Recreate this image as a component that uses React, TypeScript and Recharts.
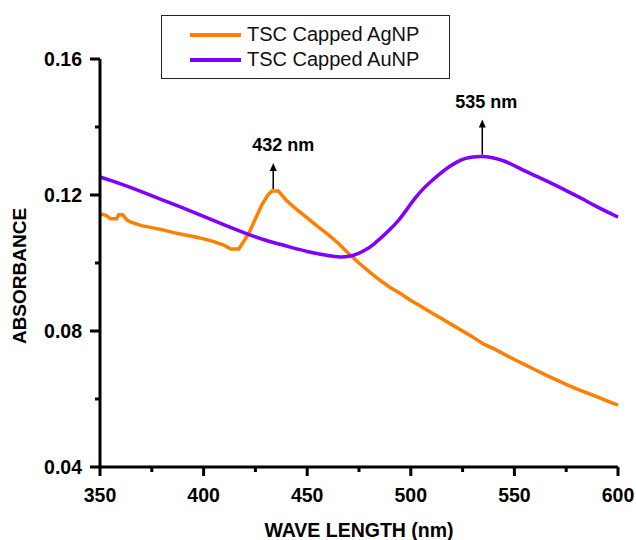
import { LineChart, Line, XAxis, YAxis, Legend, ReferenceDot } from "recharts";

const FONT = '"Liberation Sans", Arial, sans-serif';
const AG_COLOR = "#FF8000";
const AU_COLOR = "#8000FF";

// TSC capped AgNP (orange)
const AG_NM = [
  350, 353, 355, 358, 359, 361, 363, 365, 370, 375, 380, 385, 390, 395, 400, 405, 410, 413, 417,
  419, 422, 425, 428, 431, 433, 436, 440, 445, 450, 455, 460, 465, 470, 475, 480, 485, 490,
  495, 500, 505, 510, 515, 520, 525, 530, 535, 540, 545, 550, 555, 560, 565, 570, 575, 580,
  585, 590, 595, 600,
];
const AG_ABS = [
  0.1144, 0.114, 0.113, 0.113, 0.1142, 0.1142, 0.1126, 0.112, 0.111, 0.1104, 0.1098, 0.109, 0.1084,
  0.1078, 0.1071, 0.1063, 0.1052, 0.1041, 0.1041, 0.106, 0.109, 0.113, 0.117, 0.12, 0.1212,
  0.1212, 0.1184, 0.1157, 0.1133, 0.1108, 0.1084, 0.1058, 0.1028, 0.1, 0.0974, 0.095, 0.0928,
  0.091, 0.089, 0.0872, 0.0854, 0.0836, 0.0818, 0.08, 0.0782, 0.0762, 0.0748, 0.0732, 0.0716,
  0.0701, 0.0686, 0.0671, 0.0657, 0.0643, 0.063, 0.0618, 0.0606, 0.0594, 0.0582,
];

// TSC capped AuNP (purple)
const AU_NM = [
  350, 360, 370, 380, 390, 400, 410, 420, 430, 440, 450, 460, 466, 472, 478, 482, 486, 490,
  494, 498, 502, 506, 510, 514, 518, 522, 526, 530, 535, 540, 545, 550, 555, 560, 567, 575,
  583, 590, 600,
];
const AU_ABS = [
  0.1253, 0.1233, 0.121, 0.1186, 0.1162, 0.1137, 0.1112, 0.1088, 0.1067, 0.105, 0.1034,
  0.1022, 0.1018, 0.1022, 0.1038, 0.1055, 0.1076, 0.1099, 0.1125, 0.1157, 0.119, 0.1218,
  0.1241, 0.1262, 0.1281, 0.1296, 0.1307, 0.1312, 0.1313, 0.1309, 0.13, 0.1286, 0.1271,
  0.1257, 0.1237, 0.1213, 0.1188, 0.1165, 0.1135,
];

const X_TICKS = [350, 375, 400, 425, 450, 475, 500, 525, 550, 575, 600];
const Y_TICKS = [0.04, 0.06, 0.08, 0.1, 0.12, 0.14, 0.16];

const PEAK_NM = [433.6, 534.5];
const PEAK_ABS = [0.1212, 0.1313];
const PEAK_LABELS = ["432 nm", "535 nm"];

const agData = AG_NM.map((nm, i) => ({ nm, abs: AG_ABS[i] }));
const auData = AU_NM.map((nm, i) => ({ nm, abs: AU_ABS[i] }));

function XTick({ x, y, payload }: any) {
  const major = (payload.value - 350) % 50 === 0;
  return (
    <g>
      <line x1={x} x2={x} y1={y} y2={y + (major ? 9 : 5)} stroke="#000" strokeWidth={3} />
      {major && (
        <text x={x} y={y + 35} textAnchor="middle" fontFamily={FONT} fontWeight="bold" fontSize={19.5} fill="#000">
          {payload.value}
        </text>
      )}
    </g>
  );
}

function YTick({ x, y, payload }: any) {
  const major = Math.round(payload.value * 100) % 4 === 0;
  return (
    <g>
      <line x1={x - (major ? 10 : 5)} x2={x} y1={y} y2={y} stroke="#000" strokeWidth={3} />
      {major && (
        <text x={x - 18} y={y + 7} textAnchor="end" fontFamily={FONT} fontWeight="bold" fontSize={19.5} fill="#000">
          {payload.value.toFixed(2)}
        </text>
      )}
    </g>
  );
}

function PeakMark({ cx, cy, label, arrow, dx }: any) {
  const tip = cy - arrow;
  return (
    <g>
      <line x1={cx} x2={cx} y1={cy - 2} y2={tip + 6} stroke="#000" strokeWidth={1.5} />
      <path d={`M${cx - 3.5},${tip + 8} L${cx},${tip} L${cx + 3.5},${tip + 8} Z`} fill="#000" />
      <text x={cx + dx} y={tip - 12} textAnchor="middle" fontFamily={FONT} fontWeight="bold" fontSize={18} fill="#000">
        {label}
      </text>
    </g>
  );
}

function LegendBox({ payload }: any) {
  return (
    <div
      style={{
        width: 289,
        height: 64,
        boxSizing: "border-box",
        border: "1px solid #222",
        background: "#fff",
        paddingTop: 6,
        fontFamily: FONT,
        fontSize: 20,
        color: "#111",
      }}
    >
      {(payload || []).map((item: any) => (
        <div key={item.value} style={{ display: "flex", alignItems: "center", height: 25 }}>
          <svg width={51} height={6} style={{ marginLeft: 28, marginRight: 6 }}>
            <line x1={0} x2={51} y1={3} y2={3} stroke={item.color} strokeWidth={4} />
          </svg>
          <span style={{ lineHeight: "25px" }}>{item.value}</span>
        </div>
      ))}
    </div>
  );
}

export default function App() {
  return (
    <div style={{ position: "absolute", left: 0, top: 0, width: 636, height: 540, background: "#fff" }}>
      <LineChart width={636} height={540} margin={{ top: 59, right: 18, bottom: 0, left: 0 }}>
        <XAxis
          dataKey="nm"
          type="number"
          domain={[350, 600]}
          ticks={X_TICKS}
          interval={0}
          height={73}
          tickSize={0}
          tickMargin={0}
          tickLine={false}
          tick={<XTick />}
          axisLine={{ stroke: "#000", strokeWidth: 3 }}
          allowDuplicatedCategory={false}
          label={{
            content: ({ viewBox }: any) => (
              <text
                x={viewBox.x + viewBox.width / 2}
                y={viewBox.y + 70}
                textAnchor="middle"
                fontFamily={FONT}
                fontWeight="bold"
                fontSize={19.5}
                fill="#000"
              >
                WAVE LENGTH (nm)
              </text>
            ),
          }}
        />
        <YAxis
          dataKey="abs"
          type="number"
          domain={[0.04, 0.16]}
          ticks={Y_TICKS}
          interval={0}
          width={100}
          tickSize={0}
          tickMargin={0}
          tickLine={false}
          tick={<YTick />}
          axisLine={{ stroke: "#000", strokeWidth: 3 }}
          label={{
            content: ({ viewBox }: any) => {
              const cx = 26;
              const cy = viewBox.y + viewBox.height / 2 + 13;
              return (
                <text
                  x={cx}
                  y={cy}
                  transform={`rotate(-90, ${cx}, ${cy})`}
                  textAnchor="middle"
                  fontFamily={FONT}
                  fontWeight="bold"
                  fontSize={19}
                  fill="#000"
                >
                  ABSORBANCE
                </text>
              );
            },
          }}
        />
        <Legend
          layout="vertical"
          align="center"
          verticalAlign="middle"
          wrapperStyle={{ left: 161, top: 15, width: 289, height: 64 }}
          content={<LegendBox />}
        />
        <Line
          data={agData}
          dataKey="abs"
          name="TSC Capped AgNP"
          type="linear"
          stroke={AG_COLOR}
          strokeWidth={3.5}
          dot={false}
          isAnimationActive={false}
        />
        <Line
          data={auData}
          dataKey="abs"
          name="TSC Capped AuNP"
          type="natural"
          stroke={AU_COLOR}
          strokeWidth={3.5}
          dot={false}
          isAnimationActive={false}
        />
        <ReferenceDot
          x={PEAK_NM[0]}
          y={PEAK_ABS[0]}
          r={0}
          shape={(p: any) => <PeakMark cx={p.cx} cy={p.cy} label={PEAK_LABELS[0]} arrow={28} dx={10} />}
        />
        <ReferenceDot
          x={PEAK_NM[1]}
          y={PEAK_ABS[1]}
          r={0}
          shape={(p: any) => <PeakMark cx={p.cx} cy={p.cy} label={PEAK_LABELS[1]} arrow={37} dx={4} />}
        />
      </LineChart>
    </div>
  );
}
